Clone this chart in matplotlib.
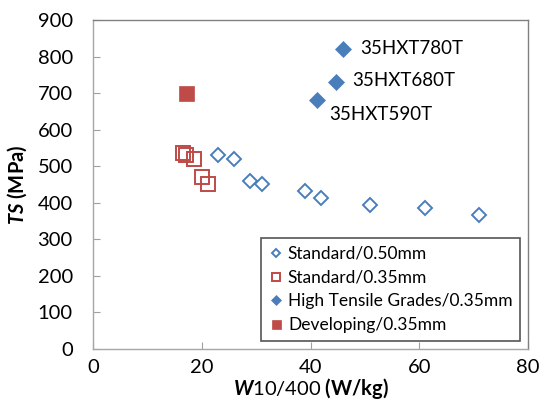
import matplotlib
matplotlib.use('Agg')
import matplotlib.pyplot as plt

plt.rcParams['font.family'] = ['Lato', 'DejaVu Sans']
plt.rcParams['mathtext.fontset'] = 'custom'
plt.rcParams['mathtext.it'] = 'Lato:italic:bold'
plt.rcParams['mathtext.rm'] = 'Lato'

# Standard/0.50mm
std50_w = [23.0, 26.0, 28.9, 31.1, 39.0, 42.0, 51.0, 61.0, 71.0]
std50_ts = [530, 519, 460, 452, 432, 412, 394, 385, 366]

# Standard/0.35mm
std35_w = [16.5, 17.1, 18.5, 20.1, 21.1]
std35_ts = [537, 532, 519, 471, 451]

# High tensile grades/0.35mm
ht_w = [41.1, 44.7, 45.9]
ht_ts = [681, 731, 822]
ht_names = ['35HXT590T', '35HXT680T', '35HXT780T']

# Developing/0.35mm
dev_w = [17.1]
dev_ts = [701]

blue = '#4A7EBB'
red = '#BE4B48'

fig = plt.figure(figsize=(5.46, 4.05), dpi=100)
ax = fig.add_axes([0.1703, 0.1383, 0.797, 0.812])

ax.plot(std50_w, std50_ts, 'D', ls='none', ms=7.3, mfc='white', mec=blue, mew=1.4,
        label='Standard/0.50mm')
ax.plot(std35_w, std35_ts, 's', ls='none', ms=9.4, mfc='none', mec=red, mew=1.4,
        label='Standard/0.35mm')
ax.plot(ht_w, ht_ts, 'D', ls='none', ms=8.0, mfc=blue, mec=blue, mew=0.5,
        label='High Tensile Grades/0.35mm')
ax.plot(dev_w, dev_ts, 's', ls='none', ms=10.8, mfc=red, mec=red, mew=0.5,
        label='Developing/0.35mm')

# grade labels next to the high tensile points
offsets = [(2.4, -38), (2.9, 3), (3.2, 1)]
for w, ts, name, (dx, dy) in zip(ht_w, ht_ts, ht_names, offsets):
    ax.text(w + dx, ts + dy, name, fontsize=13.5, ha='left', va='center')

ax.set_xlim(0, 80)
ax.set_ylim(0, 900)
ax.set_xticks([0, 20, 40, 60, 80])
ax.set_yticks(range(0, 901, 100))
ax.tick_params(axis='both', direction='in', length=5, color='#a0a0a0', labelsize=14.5)
ax.tick_params(axis='y', pad=14.5)
ax.tick_params(axis='x', pad=7)

for s in ['left', 'bottom']:
    ax.spines[s].set_color('#a6a6a6')
for s in ['top', 'right']:
    ax.spines[s].set_color('#808080')
for s in ax.spines.values():
    s.set_linewidth(1.0)

ax.set_xlabel(r'$W\mathrm{10/400}$ (W/kg)', fontsize=14.5, fontweight='bold', labelpad=0)
ax.set_ylabel(r'$TS$ (MPa)', fontsize=14.5, fontweight='bold', labelpad=6)

leg = ax.legend(loc='lower right', bbox_to_anchor=(0.982, 0.024), borderaxespad=0,
                fontsize=12.5, markerscale=0.6, handlelength=0.8, handletextpad=0.3,
                labelspacing=0.45, borderpad=0.45, fancybox=False, framealpha=1)
leg.get_frame().set_edgecolor('#555555')
leg.get_frame().set_linewidth(1.2)

fig.savefig('out.png', dpi=100)
